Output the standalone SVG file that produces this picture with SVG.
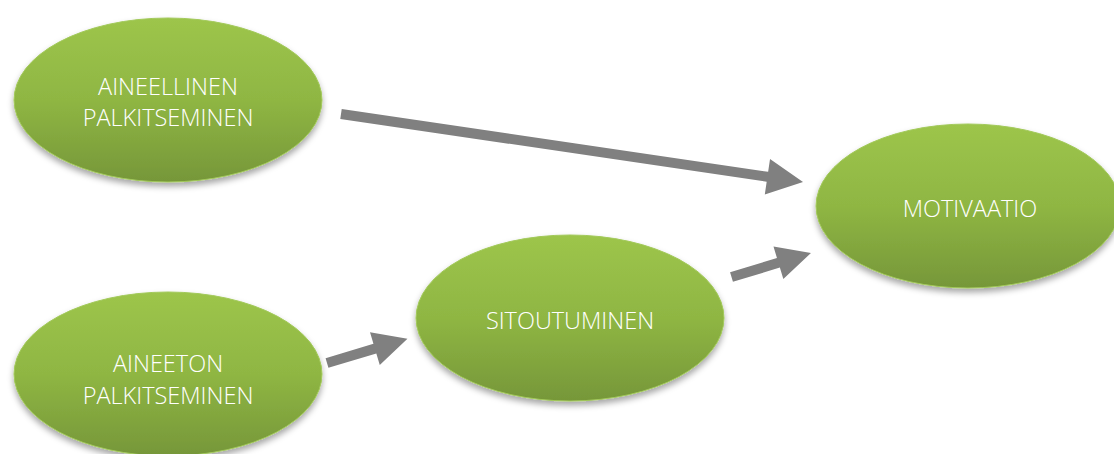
<svg xmlns="http://www.w3.org/2000/svg" width="1114" height="454" viewBox="0 0 1114 454">
  <defs>
    <linearGradient id="g" x1="0" y1="0" x2="0" y2="1">
      <stop offset="0" stop-color="#9dc54b"/>
      <stop offset="0.5" stop-color="#8fb643"/>
      <stop offset="1" stop-color="#769739"/>
    </linearGradient>
    <filter id="sh" x="-10%" y="-10%" width="120%" height="130%">
      <feDropShadow dx="0" dy="4" stdDeviation="3" flood-color="#000" flood-opacity="0.35"/>
    </filter>
  </defs>
  <style>
    .node ellipse { fill: url(#g); stroke: #a2c95a; stroke-width: 1; filter: url(#sh); }
    .node text { font-family: "Open Sans", "Noto Sans", sans-serif; font-size: 23.5px; font-weight: 300; fill: #ffffff; text-anchor: middle; }
    .arrow { fill: #808080; }
  </style>
  <rect width="1114" height="454" fill="#ffffff"/>
  <g id="node-aineellinen" class="node">
    <ellipse cx="168" cy="100" rx="154" ry="82"/>
    <text x="168" y="95">AINEELLINEN</text>
    <text x="168" y="126">PALKITSEMINEN</text>
  </g>
  <g id="node-aineeton" class="node">
    <ellipse cx="168" cy="374" rx="154" ry="82"/>
    <text x="168" y="372">AINEETON</text>
    <text x="168" y="404">PALKITSEMINEN</text>
  </g>
  <g id="node-sitoutuminen" class="node">
    <ellipse cx="570" cy="318" rx="154" ry="83"/>
    <text x="570" y="329">SITOUTUMINEN</text>
  </g>
  <g id="node-motivaatio" class="node">
    <ellipse cx="968" cy="206" rx="152" ry="82"/>
    <text x="970" y="217">MOTIVAATIO</text>
  </g>
  <g id="connectors">
    <g transform="translate(341,114) rotate(8.37)">
      <polygon class="arrow" points="0,-5 431,-5 431,-18 467,0 431,18 431,5 0,5"/>
    </g>
    <g transform="translate(327,363) rotate(-16.7)">
      <polygon class="arrow" points="0,-5 50,-5 50,-17 84,0 50,17 50,5 0,5"/>
    </g>
    <g transform="translate(731.5,277) rotate(-16.8)">
      <polygon class="arrow" points="0,-5 49,-5 49,-17 83,0 49,17 49,5 0,5"/>
    </g>
  </g>
</svg>
